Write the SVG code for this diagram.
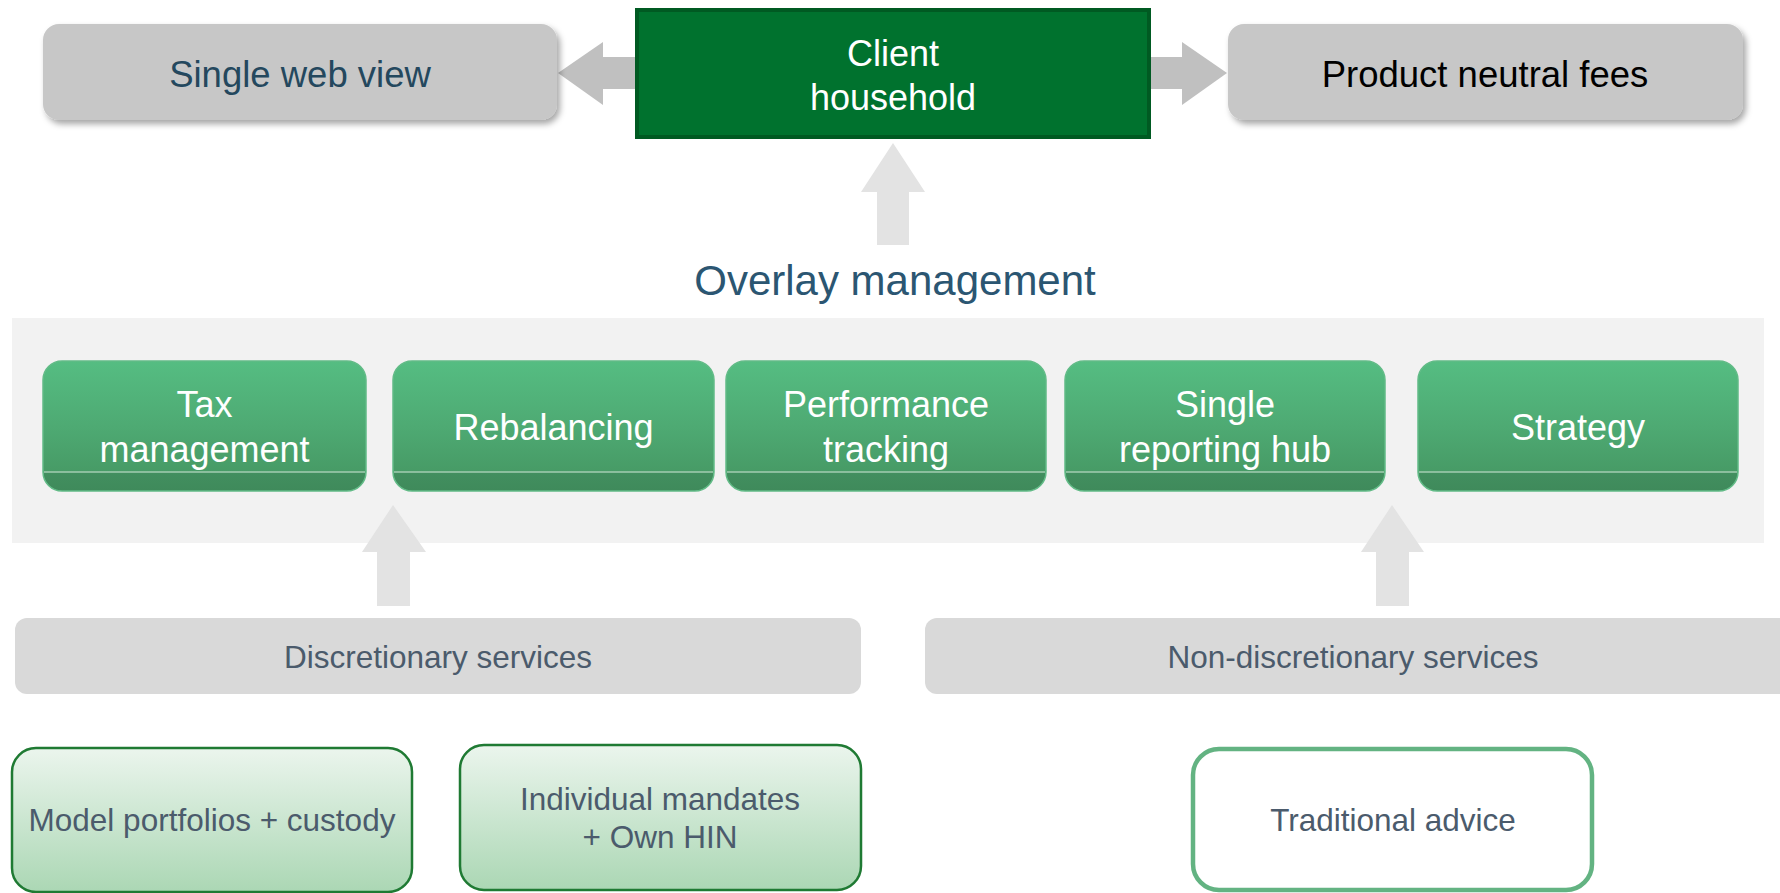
<svg xmlns="http://www.w3.org/2000/svg" width="1780" height="893" viewBox="0 0 1780 893">
  <defs>
    <filter id="softShadow" x="-5%" y="-10%" width="115%" height="130%">
      <feDropShadow dx="3" dy="4" stdDeviation="3" flood-color="#000" flood-opacity="0.35"/>
    </filter>
    <linearGradient id="gTile" x1="0" y1="0" x2="0" y2="1">
      <stop offset="0" stop-color="#55bd82"/>
      <stop offset="0.5" stop-color="#4eaa73"/>
      <stop offset="0.85" stop-color="#479b66"/>
      <stop offset="0.855" stop-color="#428f5f"/>
      <stop offset="1" stop-color="#3f8a5b"/>
    </linearGradient>
    <linearGradient id="gPale" x1="0" y1="0" x2="0" y2="1">
      <stop offset="0" stop-color="#ebf5ed"/>
      <stop offset="1" stop-color="#abd7b4"/>
    </linearGradient>
    <style>
      text { font-family: "Liberation Sans", Arial, sans-serif; text-anchor: middle; }
      .top { fill: #c7c7c7; filter: url(#softShadow); }
      .topTxt { font-size: 36.5px; }
      .tile { fill: url(#gTile); stroke: #62bb87; stroke-width: 1.5; }
      .tileLine { stroke: #a3ccb2; stroke-width: 1.5; }
      .tileTxt { font-size: 36px; fill: #ffffff; }
      .band { fill: #d9d9d9; }
      .bandTxt { font-size: 31.5px; fill: #4b5b6c; }
      .pale { fill: url(#gPale); stroke: #1f7a33; stroke-width: 2.5; }
      .open { fill: #ffffff; stroke: #63b382; stroke-width: 4.5; }
      .boxTxt { font-size: 31.5px; fill: #4b5b6c; }
      .arrowSide { fill: #c0c0c0; }
      .arrowUp { fill: #e3e3e3; }
    </style>
  </defs>

  <rect width="1780" height="893" fill="#ffffff"/>

  <!-- overlay panel background -->
  <rect id="overlay-panel" x="12" y="318" width="1752" height="225" fill="#f2f2f2"/>

  <!-- block arrows -->
  <g id="connectors">
    <polygon class="arrowSide" points="635,57 603,57 603,42 558,73 603,105 603,89 635,89"/>
    <polygon class="arrowSide" points="1151,57 1182,57 1182,42 1227,73 1182,105 1182,89 1151,89"/>
    <polygon class="arrowUp" points="877,245 877,192 861,192 893,143 925,192 909,192 909,245"/>
    <polygon class="arrowUp" points="377,606 377,552 362,552 393,505 426,552 410,552 410,606"/>
    <polygon class="arrowUp" points="1376,606 1376,552 1361,552 1392,505 1424,552 1409,552 1409,606"/>
  </g>

  <g id="single-web-view">
    <rect class="top" x="43" y="24" width="514" height="96" rx="16"/>
    <text class="topTxt" x="300" y="87" fill="#24485e">Single web view</text>
  </g>

  <g id="client-household">
    <rect x="637" y="10" width="512" height="127" fill="#00722e" stroke="#005a22" stroke-width="4"/>
    <text class="tileTxt" x="893" y="66">Client</text>
    <text class="tileTxt" x="893" y="110">household</text>
  </g>

  <g id="product-neutral-fees">
    <rect class="top" x="1228" y="24" width="515" height="96" rx="16"/>
    <text class="topTxt" x="1485" y="87" fill="#000000">Product neutral fees</text>
  </g>

  <g id="overlay-management">
    <text x="895" y="295" font-size="42" fill="#2b5672">Overlay management</text>
  </g>

  <g id="tax-management">
    <rect class="tile" x="43" y="361" width="323" height="130" rx="19"/>
    <line class="tileLine" x1="44" y1="472" x2="365" y2="472"/>
    <text class="tileTxt" x="204.5" y="417">Tax</text>
    <text class="tileTxt" x="204.5" y="462">management</text>
  </g>

  <g id="rebalancing">
    <rect class="tile" x="393" y="361" width="321" height="130" rx="19"/>
    <line class="tileLine" x1="394" y1="472" x2="713" y2="472"/>
    <text class="tileTxt" x="553.5" y="440">Rebalancing</text>
  </g>

  <g id="performance-tracking">
    <rect class="tile" x="726" y="361" width="320" height="130" rx="19"/>
    <line class="tileLine" x1="727" y1="472" x2="1045" y2="472"/>
    <text class="tileTxt" x="886" y="417">Performance</text>
    <text class="tileTxt" x="886" y="462">tracking</text>
  </g>

  <g id="single-reporting-hub">
    <rect class="tile" x="1065" y="361" width="320" height="130" rx="19"/>
    <line class="tileLine" x1="1066" y1="472" x2="1384" y2="472"/>
    <text class="tileTxt" x="1225" y="417">Single</text>
    <text class="tileTxt" x="1225" y="462">reporting hub</text>
  </g>

  <g id="strategy">
    <rect class="tile" x="1418" y="361" width="320" height="130" rx="19"/>
    <line class="tileLine" x1="1419" y1="472" x2="1737" y2="472"/>
    <text class="tileTxt" x="1578" y="440">Strategy</text>
  </g>

  <g id="discretionary-services">
    <rect class="band" x="15" y="618" width="846" height="76" rx="12"/>
    <text class="bandTxt" x="438" y="668">Discretionary services</text>
  </g>

  <g id="non-discretionary-services">
    <rect class="band" x="925" y="618" width="868" height="76" rx="12"/>
    <text class="bandTxt" x="1353" y="668">Non-discretionary services</text>
  </g>

  <g id="model-portfolios">
    <rect class="pale" x="12" y="748" width="400" height="144" rx="24"/>
    <text class="boxTxt" x="212" y="831">Model portfolios + custody</text>
  </g>

  <g id="individual-mandates">
    <rect class="pale" x="460" y="745" width="401" height="145" rx="24"/>
    <text class="boxTxt" x="660" y="810">Individual mandates</text>
    <text class="boxTxt" x="660" y="848">+ Own HIN</text>
  </g>

  <g id="traditional-advice">
    <rect class="open" x="1193" y="749" width="399" height="141" rx="26"/>
    <text class="boxTxt" x="1393" y="831">Traditional advice</text>
  </g>
</svg>
